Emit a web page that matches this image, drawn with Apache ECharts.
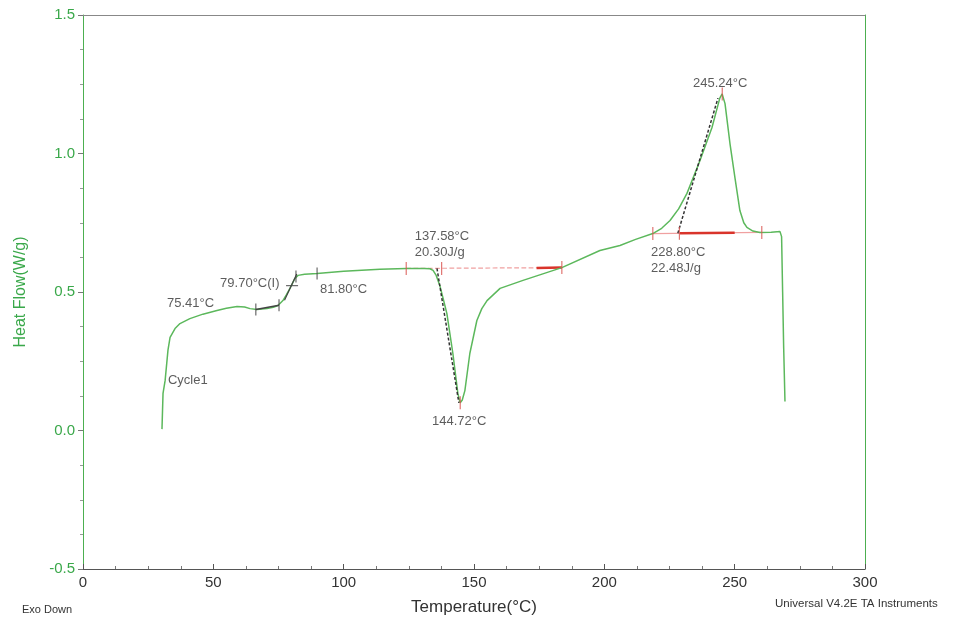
<!DOCTYPE html>
<html>
<head>
<meta charset="utf-8">
<script src="https://cdn.jsdelivr.net/npm/echarts@6/dist/echarts.min.js"></script>
<style>html,body{margin:0;padding:0;background:#fff}#c{width:956px;height:624px}</style>
</head>
<body>
<div id="c"></div>
<script>
// ---- data ----
const temperature = [30.3,30.7,31.5,32.6,33.4,35.3,37.2,41.0,46,51.4,55,59.1,62,64.1,66.7,70.6,73,74.8,76.7,78,79.4,81.3,82.5,85,89.8,100,113.9,124,131,133.1,134.3,135.5,136.9,138.2,139.6,141.9,143.8,144.7,145.5,146.5,148.4,151.1,153,155.0,160.0,168.8,183.7,198.3,206,212,218.6,222,225.2,228.5,231.7,236.7,241.3,244.3,245.2,246.3,248.2,250.1,252,253.5,254.7,257,259.7,264,267.4,268.0,268.4,268.8,269.3];
const heatFlow = [0.005,0.134,0.18,0.29,0.336,0.368,0.386,0.404,0.42,0.433,0.441,0.448,0.446,0.440,0.437,0.440,0.445,0.451,0.469,0.49,0.513,0.549,0.560,0.564,0.567,0.575,0.582,0.585,0.585,0.584,0.578,0.56,0.523,0.475,0.422,0.278,0.134,0.100,0.11,0.144,0.278,0.397,0.44,0.469,0.513,0.542,0.588,0.65,0.668,0.69,0.711,0.73,0.758,0.80,0.856,0.975,1.094,1.20,1.215,1.18,1.036,0.913,0.794,0.75,0.733,0.72,0.715,0.716,0.718,0.70,0.5,0.3,0.105];

const baseline1 = [[124,0.585],[183.7,0.588]];
const baseline1Bold = [[174,0.587],[183.7,0.588]];
const baseline2 = [[218.6,0.711],[260.4,0.715]];
const baseline2Bold = [[229,0.712],[250,0.714]];
const tangent1 = [[135.8,0.585],[144.2,0.10]];
const tangent2 = [[228.2,0.712],[243.6,1.20]];
const tgTangent = [[77.3,0.47],[82.0,0.565]];
const tgSeg = [[66.3,0.437],[75.2,0.452]];
const blackTicks = [[66.3,0.437],[75.2,0.452],[81.7,0.556],[89.8,0.567]];
const tgCross = [[80.2,0.523]];
const redTicks = [[124,0.585],[137.58,0.585],[183.7,0.588],[144.72,0.10],[218.6,0.711],[228.8,0.712],[260.4,0.715],[245.24,1.215]];

const annotations = [
  {value:[32.2,0.458], text:'75.41°C'},
  {value:[52.6,0.531], text:'79.70°C(I)'},
  {value:[90.9,0.509], text:'81.80°C'},
  {value:[127.3,0.672], text:'137.58°C\n20.30J/g'},
  {value:[133.9,0.032], text:'144.72°C'},
  {value:[234.0,1.253], text:'245.24°C'},
  {value:[217.9,0.614], text:'228.80°C\n22.48J/g'},
  {value:[32.6,0.18], text:'Cycle1'}
];

const xTicks = {min:0, max:300, interval:50};
const yTicks = {min:-0.5, max:1.5, interval:0.5};

const green = '#5cb85c';
const axisGreen = '#4caf50';
const chart = echarts.init(document.getElementById('c'));
const curve = temperature.map((t,i)=>[t,heatFlow[i]]);
const txt = {fontFamily:'Liberation Sans, Arial, sans-serif'};

chart.setOption({
  animation:false,
  grid:{left:83,right:91,top:15,bottom:55},
  xAxis:[{
    type:'value', min:xTicks.min, max:xTicks.max, interval:xTicks.interval,
    name:'Temperature(°C)', nameLocation:'middle', nameGap:30,
    nameTextStyle:{color:'#333',fontSize:17,...txt},
    axisLine:{onZero:false,lineStyle:{color:'#555',width:1}},
    axisTick:{inside:true,length:5,lineStyle:{color:'#555'}},
    minorTick:{show:true,splitNumber:4,length:3,lineStyle:{color:'#777'}},
    axisLabel:{color:'#333',fontSize:15,margin:6,...txt},
    splitLine:{show:false}
  },{
    type:'value', min:xTicks.min, max:xTicks.max, position:'top',
    axisLine:{show:true,onZero:false,lineStyle:{color:'#888'}},
    axisTick:{show:false}, axisLabel:{show:false}, splitLine:{show:false}
  }],
  yAxis:[{
    type:'value', min:yTicks.min, max:yTicks.max, interval:yTicks.interval,
    name:'Heat Flow(W/g)', nameLocation:'middle', nameGap:54, nameRotate:90,
    nameTextStyle:{color:'#3aa84a',fontSize:16,...txt},
    axisLine:{show:true,onZero:false,lineStyle:{color:axisGreen,width:1}},
    axisTick:{show:true,length:5,lineStyle:{color:'#777'}},
    minorTick:{show:true,splitNumber:4,length:3,lineStyle:{color:'#999'}},
    axisLabel:{color:'#3aa84a',fontSize:15,margin:8,
      formatter:v=>v.toFixed(1),...txt},
    splitLine:{show:false}
  },{
    type:'value', min:yTicks.min, max:yTicks.max, position:'right',
    axisLine:{show:true,onZero:false,lineStyle:{color:axisGreen}},
    axisTick:{show:false}, axisLabel:{show:false}, splitLine:{show:false}
  }],
  series:[
    {type:'line',data:baseline1,symbol:'none',lineStyle:{color:'#f0a0a0',width:1.2,type:'dashed'},z:2},
    {type:'line',data:baseline1Bold,symbol:'none',lineStyle:{color:'#d9342b',width:2.5},z:2},
    {type:'line',data:baseline2,symbol:'none',lineStyle:{color:'#f0a0a0',width:1.2},z:2},
    {type:'line',data:baseline2Bold,symbol:'none',lineStyle:{color:'#d9342b',width:2.5},z:2},
    {type:'line',data:curve,symbol:'none',lineStyle:{color:green,width:1.5},z:3},
    {type:'line',data:tangent1,symbol:'none',lineStyle:{color:'#333',width:1.5,type:[3,2]},z:4},
    {type:'line',data:tangent2,symbol:'none',lineStyle:{color:'#333',width:1.5,type:[3,2]},z:4},
    {type:'line',data:tgTangent,symbol:'none',lineStyle:{color:'#444',width:1.2},z:4},
    {type:'line',data:tgSeg,symbol:'none',lineStyle:{color:'#444',width:1.5},z:4},
    {type:'scatter',data:blackTicks,symbol:'rect',symbolSize:[1.2,12],itemStyle:{color:'#444'},z:5},
    {type:'scatter',data:tgCross,symbol:'rect',symbolSize:[12,1.2],itemStyle:{color:'#444'},z:5},
    {type:'scatter',data:redTicks,symbol:'rect',symbolSize:[1.2,13],itemStyle:{color:'#d9534f'},z:5},
    {type:'scatter',data:annotations.map(a=>({value:a.value,label:{formatter:a.text}})),
      symbolSize:0,silent:true,z:6,
      label:{show:true,position:'right',distance:0,color:'#333',fontSize:13,lineHeight:16,...txt}}
  ],
  graphic:[
    {type:'text',left:22,top:604,style:{text:'Exo Down',fill:'#333',fontSize:11,...txt}},
    {type:'text',left:775,top:598,style:{text:'Universal V4.2E TA Instruments',fill:'#333',fontSize:11.5,...txt}}
  ]
});
</script>
</body>
</html>
